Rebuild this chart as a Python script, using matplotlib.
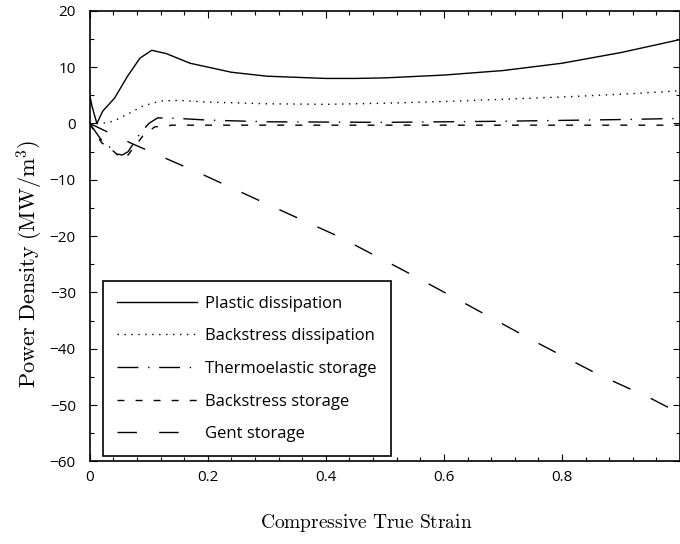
import numpy as np
import matplotlib
matplotlib.use('Agg')
import matplotlib.pyplot as plt
from matplotlib.ticker import AutoMinorLocator

plt.rcParams['mathtext.fontset'] = 'cm'

# values
strain_plastic = [0, 0.004, 0.012, 0.022, 0.042, 0.064, 0.085, 0.105, 0.13, 0.17, 0.24,
                  0.3, 0.4, 0.45, 0.5, 0.6, 0.7, 0.8, 0.9, 1.0]
plastic = [5.0, 3.0, 0.0, 2.2, 4.5, 8.4, 11.6, 13.0, 12.4, 10.7, 9.1,
           8.4, 8.0, 8.0, 8.1, 8.6, 9.4, 10.7, 12.6, 14.9]

strain_bdiss = [0, 0.02, 0.04, 0.065, 0.09, 0.12, 0.15, 0.2, 0.3, 0.4, 0.5,
                0.6, 0.7, 0.8, 0.9, 1.0]
back_diss = [0, 0.0, 0.4, 1.7, 3.1, 4.0, 4.1, 3.8, 3.5, 3.4, 3.6,
             3.9, 4.3, 4.7, 5.2, 5.8]

strain_thermo = [0, 0.01, 0.02, 0.03, 0.035, 0.045, 0.055, 0.065, 0.075, 0.085, 0.1,
                 0.115, 0.15, 0.2, 0.3, 0.5, 0.7, 0.9, 1.0]
thermo = [0, -1.5, -3.0, -3.6, -4.4, -5.4, -5.6, -5.0, -3.4, -1.8, 0.0,
          1.0, 0.9, 0.6, 0.3, 0.2, 0.4, 0.7, 0.9]

strain_bstor = [0, 0.01, 0.02, 0.03, 0.04, 0.05, 0.058, 0.065, 0.072, 0.08, 0.09,
                0.11, 0.14, 0.3, 0.6, 1.0]
back_stor = [0, -1.8, -3.4, -4.2, -4.9, -5.9, -5.4, -5.6, -4.6, -3.6, -2.2,
             -0.6, -0.3, -0.3, -0.3, -0.3]

strain_gent = [0, 0.07, 0.19, 0.3, 0.42, 0.53, 0.64, 0.75, 0.86, 0.95, 1.0]
gent = [0, -3.5, -9.0, -14.3, -20.0, -26.0, -32.2, -38.5, -44.5, -48.8, -51.5]

labels = ['Plastic dissipation', 'Backstress dissipation', 'Thermoelastic storage',
          'Backstress storage', 'Gent storage']

fig = plt.figure(figsize=(6.8, 5.44), dpi=100)
ax = fig.add_axes([0.132, 0.152, 0.868, 0.828])

ax.plot(strain_plastic, plastic, 'k-', lw=1.0, label=labels[0])
ax.plot(strain_bdiss, back_diss, 'k', lw=1.0, dashes=(1, 4), label=labels[1])
ax.plot(strain_thermo, thermo, 'k', lw=1.0, dashes=(15, 7, 1, 7), label=labels[2])
ax.plot(strain_bstor, back_stor, 'k', lw=1.0, dashes=(5, 8), label=labels[3])
ax.plot(strain_gent, gent, 'k', lw=1.0, dashes=(14, 16), label=labels[4])

ax.set_xlim(0, 1.0)
ax.set_ylim(-60, 20)
ax.set_xticks([0, 0.2, 0.4, 0.6, 0.8])
ax.set_xticklabels(['0', '0.2', '0.4', '0.6', '0.8'])
ax.set_yticks(np.arange(-60, 21, 10))
ax.xaxis.set_minor_locator(AutoMinorLocator(5))
ax.yaxis.set_minor_locator(AutoMinorLocator(2))
ax.tick_params(which='both', direction='in', top=True, right=True, labelsize=11)
ax.tick_params(axis='x', pad=6)
ax.tick_params(axis='y', pad=10)
ax.tick_params(which='major', length=5, width=0.8)
ax.tick_params(which='minor', length=3, width=0.8)
for lab in ax.get_xticklabels() + ax.get_yticklabels():
    lab.set_family('Open Sans')
for s in ax.spines.values():
    s.set_linewidth(1.2)

ax.set_xlabel(r'$\mathrm{Compressive\ True\ Strain}$', fontsize=14)
ax.set_ylabel(r'$\mathrm{Power\ Density\ (MW/m^3)}$', fontsize=16)
ax.xaxis.set_label_coords(0.468, -0.136)
ax.xaxis.label.set_verticalalignment('center')
ax.yaxis.set_label_coords(-0.102, 0.438)
ax.yaxis.label.set_verticalalignment('center')

leg = ax.legend(loc='lower left', bbox_to_anchor=(0.022, 0.011), borderaxespad=0,
                fancybox=False, edgecolor='k', framealpha=1, handlelength=4.8,
                handletextpad=0.5, labelspacing=1.0, borderpad=0.85,
                prop={'family': 'Open Sans', 'size': 12})
leg.get_frame().set_linewidth(1.2)

fig.savefig('out.png', dpi=100)
